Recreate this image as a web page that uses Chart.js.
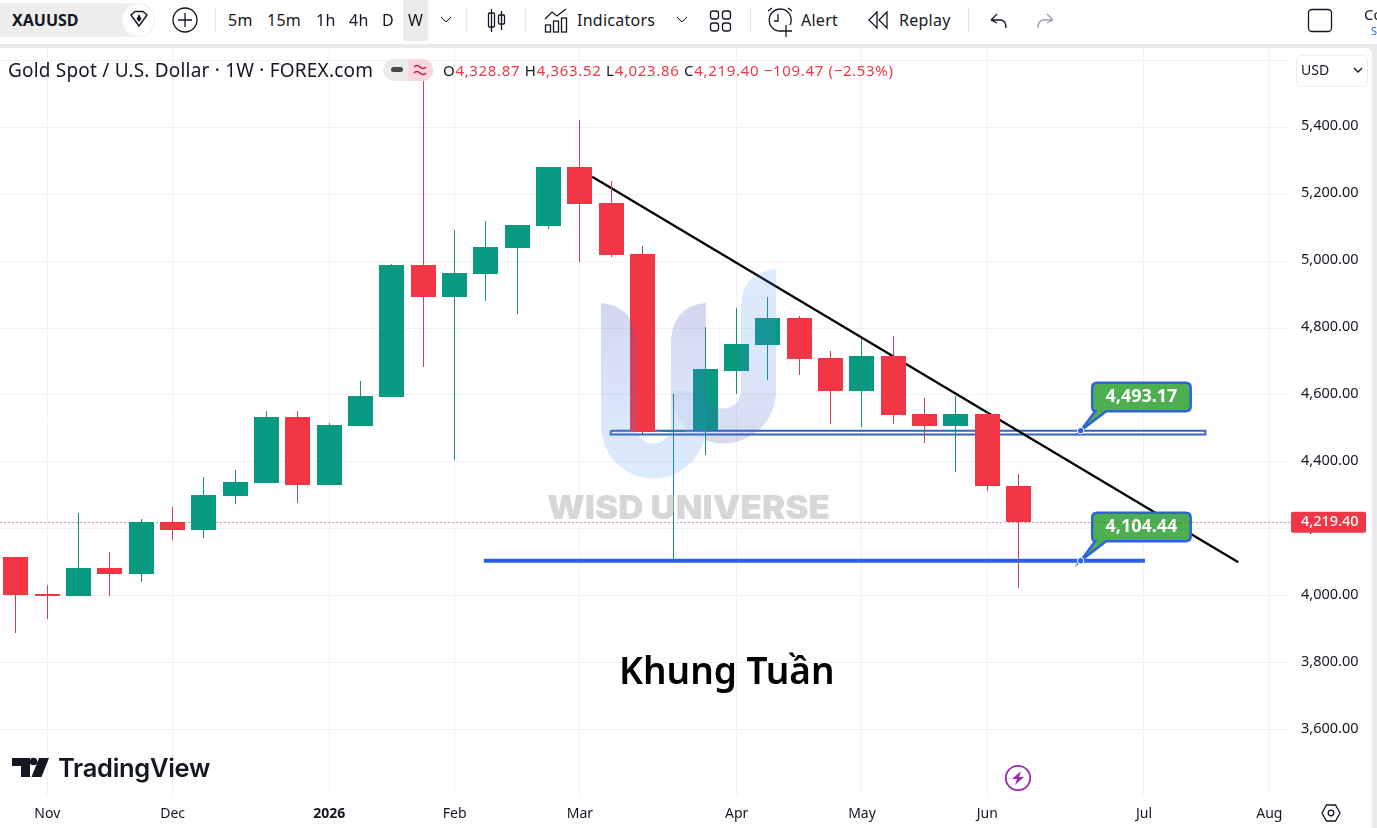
<!DOCTYPE html>
<html>
<head>
<meta charset="utf-8">
<title>XAUUSD 1W</title>
<script src="https://cdn.jsdelivr.net/npm/chart.js@4"></script>
<style>
  html, body { margin: 0; padding: 0; background: #ebebeb; overflow: hidden; }
  body { width: 1377px; height: 828px; position: relative; font-family: "Noto Sans", sans-serif; color: #131722; }
  #toolbar { position: absolute; left: 0; top: 0; width: 1377px; height: 44px; background: #fff; }
  #pane { position: absolute; left: 0; top: 48px; width: 1372px; height: 780px; background: #fff; border-top-right-radius: 6px; }
  #priceChart { position: absolute; left: 0; top: 0; }
  #overlay { position: absolute; left: 0; top: 0; pointer-events: none; }
  .t { position: absolute; white-space: nowrap; line-height: 1; transform: translateY(-50%); }
  .tb { font-size: 16px; letter-spacing: .25px; }
  .box { position: absolute; }
  .red { color: #f23645; }
</style>
</head>
<body>
<div id="toolbar"></div>
<div id="pane"><canvas id="priceChart" width="1372" height="780"></canvas></div>

<div class="box" style="left:0;top:3px;width:155px;height:34px;background:#eeeeee;border-radius:0 17px 17px 0"></div>
<div class="box" style="left:122px;top:3px;width:33px;height:34px;background:#fff;border-radius:17px;box-shadow:0 0 0 1px #eee inset"></div>
<div class="box" style="left:403px;top:0;width:25px;height:41px;background:#ebebeb;border-radius:0 0 4px 4px"></div>
<div class="box" style="left:383px;top:59px;width:50px;height:22px;background:#ebebeb;border-radius:11px;overflow:hidden">
  <div class="box" style="left:25px;top:0;width:25px;height:22px;background:#f9d5dc"></div>
</div>
<div class="box" style="left:1296px;top:55px;width:70px;height:30px;background:#fff;border:1px solid #eeeeee;border-radius:5px"></div>

<span class="t" style="left:12px;top:20px;font-size:16px;font-weight:700">XAUUSD</span>
<span class="t tb" style="left:228px;top:20px">5m</span>
<span class="t tb" style="left:267px;top:20px">15m</span>
<span class="t tb" style="left:316px;top:20px">1h</span>
<span class="t tb" style="left:349px;top:20px">4h</span>
<span class="t tb" style="left:382px;top:20px">D</span>
<span class="t tb" style="left:408px;top:20px">W</span>
<span class="t tb" style="left:577px;top:20px">Indicators</span>
<span class="t tb" style="left:801px;top:20px">Alert</span>
<span class="t tb" style="left:899px;top:20px">Replay</span>
<span class="t" style="left:1364px;top:14px;font-size:15px">Co</span>
<span class="t" style="left:1371px;top:30px;font-size:11px;color:#2962ff">S</span>

<span class="t" style="left:8px;top:70px;font-size:19px;letter-spacing:.2px">Gold Spot / U.S. Dollar · 1W · FOREX.com</span>
<span class="t" style="left:443px;top:70px;font-size:15px;letter-spacing:.67px">O<span class="red">4,328.87</span> H<span class="red">4,363.52</span> L<span class="red">4,023.86</span> C<span class="red">4,219.40 −109.47 (−2.53%)</span></span>
<span class="t" style="left:1301px;top:70px;font-size:14px">USD</span>
<span class="t" style="left:619px;top:669px;font-size:37px;font-weight:600;color:#000">Khung Tuần</span>
<span class="t" style="left:58px;top:768px;font-family:Inter,sans-serif;font-size:25.5px;font-weight:600;letter-spacing:-.3px">TradingView</span>

<svg id="overlay" width="1377" height="828" viewBox="0 0 1377 828" fill="none" stroke="#131722" stroke-width="1.3">
  <defs>
    <linearGradient id="uLeft" x1="0" y1="0" x2="0" y2="1">
      <stop offset="0" stop-color="#4a56b8" stop-opacity=".24"/>
      <stop offset=".55" stop-color="#4a7be0" stop-opacity=".2"/>
      <stop offset="1" stop-color="#4a9cf0" stop-opacity=".2"/>
    </linearGradient>
    <linearGradient id="uRight" x1="0" y1="0" x2="0" y2="1">
      <stop offset="0" stop-color="#4a9cf0" stop-opacity=".2"/>
      <stop offset=".6" stop-color="#4a7be0" stop-opacity=".2"/>
      <stop offset="1" stop-color="#4a56b8" stop-opacity=".22"/>
    </linearGradient>
  </defs>

  <!-- brand mark -->
  <path stroke="none" fill="url(#uRight)" d="M776 269 V391 A52.5 52.5 0 0 1 706 440.5 V391 A17.5 17.5 0 0 0 741 391 V308 Q741 272 776 269 Z"/>
  <path stroke="none" fill="#4a56b8" fill-opacity=".07" d="M706 391 V440.5 A52.5 52.5 0 0 1 671 391 Z"/>
  <path stroke="none" fill="url(#uLeft)" d="M601 303 V426 A52.5 52.5 0 0 0 706 426 V303 Q671 306 671 345 V426 A17.5 17.5 0 0 1 636 426 V345 Q636 306 601 303 Z"/>
  <text x="547" y="519" stroke="none" fill="#bdbdbd" fill-opacity=".6" font-family="Inter, sans-serif" font-size="33" font-weight="900" textLength="283" lengthAdjust="spacingAndGlyphs">WISD UNIVERSE</text>

  <!-- symbol pill -->
  <path stroke-width="1.4" d="M131 15 L135 11.5 H143 L147 15 L139 26 Z"/>
  <path fill="#131722" stroke="none" d="M139 14 L141.5 19 L139 22 L136.5 19 Z"/>
  <circle cx="185" cy="20" r="12"/>
  <path d="M185 13 V27 M178 20 H192"/>
  <path d="M441 17 L446 22 L451 17" stroke-width="1"/>

  <!-- separators -->
  <path stroke="#e6e6e6" d="M215.5 8 V32 M466.5 8 V32 M525.5 8 V32 M750.5 8 V32 M968.5 8 V32"/>

  <!-- candle style icon -->
  <path d="M491.5 9 V32 M501.5 11 V30"/>
  <rect x="488.5" y="13" width="6" height="14" rx="1"/>
  <rect x="498.5" y="15" width="6" height="9" rx="1"/>

  <!-- indicators icon -->
  <path d="M545 19 L552 12 L557 16 L566 9"/>
  <rect x="545.5" y="25" width="5" height="7"/>
  <rect x="553.5" y="21" width="5" height="11"/>
  <rect x="561.5" y="18" width="5" height="14"/>
  <path d="M677 17 L682 22 L687 17" stroke-width="1"/>

  <!-- layout icon -->
  <rect x="710.5" y="11" width="8" height="8" rx="2.5"/>
  <rect x="722.5" y="11" width="8" height="8" rx="2.5"/>
  <rect x="710.5" y="23" width="8" height="8" rx="2.5"/>
  <rect x="722.5" y="23" width="8" height="8" rx="2.5"/>

  <!-- alert icon -->
  <path d="M790 25 A11 11 0 1 0 781 31"/>
  <path d="M778 14 V21 H774"/>
  <path d="M768 11 L772 8 M788 8 L792 11 M786 25 V37 M780 31 H792"/>

  <!-- replay icon -->
  <path d="M877 12 L869 20 L877 28 Z M887 12 L879 20 L887 28 Z"/>

  <!-- undo / redo -->
  <path d="M991 20 L997 14 M991 20 L997 23 M991 20 H1001 Q1006 21 1006 28"/>
  <path stroke="#9a9ea8" d="M1053 20 L1047 14 M1053 20 L1047 23 M1053 20 H1043 Q1038 21 1038 28"/>

  <!-- fullscreen square -->
  <rect x="1308.5" y="9.5" width="23" height="22" rx="3.5"/>

  <!-- legend pill marks -->
  <rect x="391" y="67" width="12" height="5" rx="2.5" fill="#4a4a4a" stroke="none"/>
  <path stroke="#c2185b" stroke-width="1.6" d="M414 67 Q417 64 420 67 T426 67 M414 73 Q417 70 420 73 T426 73"/>
  <path d="M1354 68 L1358 72 L1362 68" stroke-width="1.4"/>

  <!-- TradingView mark -->
  <path stroke="none" fill="#131722" d="M12 758 H30 V777 H21 V766 H12 Z M39 758 H49 L41.5 777 H31.5 Z"/>
  <circle cx="33.5" cy="761.5" r="3.8" fill="#131722" stroke="none"/>

  <!-- economic event marker -->
  <circle cx="1018" cy="778" r="12.2" stroke="#9c27b0" stroke-width="1.8"/>
  <path stroke="none" fill="#9c27b0" d="M1021 771 L1012 779 H1017 L1015 785 L1024 777 H1019 Z"/>

  <!-- axis settings -->
  <path d="M1322 813 L1326.5 805 H1335.5 L1340 813 L1335.5 821 H1326.5 Z"/>
  <circle cx="1331" cy="813" r="2.8"/>
</svg>

<script>
/* =========================
   Data
========================= */

const opens  = [4115, 4004, 3999, 4084, 4065, 4219, 4197, 4298, 4338, 4533, 4331, 4508, 4594, 4989, 4892, 4961, 5039, 5105, 5281, 5173, 5021, 4488, 4494, 4673, 4750, 4831, 4711, 4612, 4717, 4544, 4508, 4544, 4328.87];
const highs  = [4115, 4031, 4247, 4132, 4228, 4264, 4354, 4375, 4551, 4551, 4517, 4643, 4991, 5598, 5093, 5120, 5108, 5281, 5422, 5239, 5045, 4602, 4802, 4859, 4894, 4837, 4732, 4768, 4777, 4592, 4598, 4550, 4363.52];
const lows   = [3889, 3929, 3999, 3999, 4041, 4167, 4173, 4275, 4338, 4278, 4330, 4508, 4594, 4684, 4405, 4880, 4841, 5096, 4997, 5012, 4482, 4104.44, 4420, 4602, 4646, 4660, 4514, 4505, 4514, 4457, 4370, 4313, 4023.86];
const closes = [4001, 3999, 4084, 4065, 4219, 4197, 4300, 4339, 4533, 4331, 4510, 4596, 4989, 4894, 4964, 5042, 5108, 5281, 5170, 5018, 4488, 4493.17, 4677, 4751, 4831, 4708, 4612, 4717, 4541, 4508, 4544, 4328, 4219.40];

const monthTicks  = [1, 5, 10, 14, 18, 23, 27, 31, 36, 40];
const monthLabels = ["Nov", "Dec", "2026", "Feb", "Mar", "Apr", "May", "Jun", "Jul", "Aug"];
const priceTicks  = [3600, 3800, 4000, 4200, 4400, 4600, 4800, 5000, 5200, 5400, 5600];

const lastPrice   = 4219.40;
const supportLow  = 4104.44;
const supportHigh = 4493.17;
const zoneBottom  = 4482;

// drawings, x in bar numbers
const supportXs = [14.93, 36.03];
const zoneXs    = [18.98, 37.96];
const trendXs   = [18.39, 39.01];
const trendYs   = [5252, 4100];
const anchorX   = 33.98;

/* =========================
   Colors
========================= */

const UP = "#089981";
const DOWN = "#f23645";
const WICK_UP = "#12907f";
const WICK_DOWN = "#c9404f";
const GRID = "#f0f1f3";
const DRAW_BLUE = "#2f62dc";
const fontFamily = '"Noto Sans", sans-serif';

function fmtPrice(v) {
  return v.toLocaleString("en-US", { minimumFractionDigits: 2, maximumFractionDigits: 2 });
}

const bars = opens.map((_, i) => i);

/* =========================
   Plugins
========================= */

// keep the candles and the dotted price line on whole pixels so they stay crisp
const snapToPixels = {
  id: "snapToPixels",
  afterDatasetsUpdate(chart) {
    chart.data.datasets.forEach((ds, idx) => {
      const elements = chart.getDatasetMeta(idx).data;
      if (ds.label === "last") {
        elements.forEach(el => { el.y = Math.floor(el.y) + 0.5; });
      }
      if (!ds.candlePart) return;
      elements.forEach(el => {
        el.x = Math.floor(el.x) + 0.5;
        el.y = Math.round(el.y);
        el.base = Math.round(el.base);
        if (el.y === el.base) el.base = el.y + 1;
      });
    });
  }
};

function drawCallout(chart, price) {
  const ctx = chart.ctx;
  const tipX = chart.scales.x.getPixelForValue(anchorX);
  const tipY = chart.scales.y.getPixelForValue(price);
  const left = tipX + 11.5, right = tipX + 110;
  const top = tipY - 48, bottom = tipY - 19.5, r = 5;

  ctx.save();
  ctx.beginPath();
  ctx.moveTo(left + r, top);
  ctx.lineTo(right - r, top);
  ctx.quadraticCurveTo(right, top, right, top + r);
  ctx.lineTo(right, bottom - r);
  ctx.quadraticCurveTo(right, bottom, right - r, bottom);
  ctx.lineTo(left + 14, bottom);
  ctx.lineTo(tipX, tipY);
  ctx.lineTo(left + 3, bottom);
  ctx.quadraticCurveTo(left, bottom, left, bottom - r);
  ctx.lineTo(left, top + r);
  ctx.quadraticCurveTo(left, top, left + r, top);
  ctx.closePath();
  ctx.fillStyle = "#4caf50";
  ctx.fill();
  ctx.lineWidth = 2.5;
  ctx.strokeStyle = DRAW_BLUE;
  ctx.stroke();

  ctx.fillStyle = "#fff";
  ctx.font = "700 18px " + fontFamily;
  ctx.textAlign = "center";
  ctx.textBaseline = "middle";
  ctx.fillText(fmtPrice(price), (left + right) / 2, (top + bottom) / 2 - 0.5);

  // anchor handle
  ctx.beginPath();
  ctx.arc(tipX, tipY, 3.2, 0, Math.PI * 2);
  ctx.fillStyle = DRAW_BLUE;
  ctx.fill();
  ctx.lineWidth = 1;
  ctx.strokeStyle = "#fff";
  ctx.stroke();
  ctx.restore();
}

const callouts = {
  id: "callouts",
  afterDatasetDraw(chart, args) {
    if (chart.data.datasets[args.index].label !== "trend") return;
    drawCallout(chart, supportHigh);
    drawCallout(chart, supportLow);
  }
};

// red tag on the price axis
const lastPriceTag = {
  id: "lastPriceTag",
  afterDraw(chart) {
    const ctx = chart.ctx;
    const y = chart.scales.y.getPixelForValue(lastPrice);
    ctx.save();
    ctx.fillStyle = DOWN;
    ctx.beginPath();
    ctx.roundRect(1291, y - 10.5, 75, 21, 2);
    ctx.fill();
    ctx.fillStyle = "#fff";
    ctx.font = "500 14.5px " + fontFamily;
    ctx.textAlign = "left";
    ctx.textBaseline = "middle";
    ctx.fillText(fmtPrice(lastPrice), 1301, y);
    ctx.restore();
  }
};

/* =========================
   Chart
========================= */

new Chart(document.getElementById("priceChart"), {
  type: "bar",
  plugins: [snapToPixels, callouts, lastPriceTag],
  data: {
    datasets: [
      {
        label: "zone",
        type: "line",
        order: 60,
        data: [
          { x: zoneXs[0], y: supportHigh },
          { x: zoneXs[1], y: supportHigh },
          { x: zoneXs[1], y: zoneBottom },
          { x: zoneXs[0], y: zoneBottom },
          { x: zoneXs[0], y: supportHigh }
        ],
        borderColor: "#3563c4",
        borderWidth: 2,
        borderJoinStyle: "miter",
        pointRadius: 0,
        tension: 0
      },
      {
        label: "support",
        type: "line",
        order: 50,
        data: supportXs.map(x => ({ x, y: supportLow })),
        borderColor: "#2b5fe6",
        borderWidth: 4,
        pointRadius: 0
      },
      {
        label: "trend",
        type: "line",
        order: 40,
        data: trendXs.map((x, i) => ({ x, y: trendYs[i] })),
        borderColor: "#000",
        borderWidth: 2.2,
        pointRadius: 0
      },
      {
        label: "last",
        type: "line",
        order: 30,
        data: [{ x: -1, y: lastPrice }, { x: 41, y: lastPrice }],
        borderColor: "#9c3a4a",
        borderWidth: 1,
        borderDash: [1, 3],
        pointRadius: 0
      },
      {
        label: "wicks",
        order: 20,
        candlePart: true,
        grouped: false,
        barThickness: 1,
        inflateAmount: 0,
        data: bars.map(i => ({ x: i, y: [lows[i], highs[i]] })),
        backgroundColor: bars.map(i => closes[i] >= opens[i] ? WICK_UP : WICK_DOWN)
      },
      {
        label: "bodies",
        order: 10,
        candlePart: true,
        grouped: false,
        barThickness: 25,
        inflateAmount: 0,
        data: bars.map(i => ({ x: i, y: [opens[i], closes[i]] })),
        backgroundColor: bars.map(i => closes[i] >= opens[i] ? UP : DOWN)
      }
    ]
  },
  options: {
    responsive: false,
    animation: false,
    events: [],
    layout: { padding: 0 },
    plugins: { legend: { display: false }, tooltip: { enabled: false } },
    scales: {
      x: {
        type: "linear",
        bounds: "data",
        offset: false,
        min: -0.509,
        max: 40.66,
        afterBuildTicks(scale) { scale.ticks = monthTicks.map(value => ({ value })); },
        // no room reserved for the outer labels, the plot runs up to the edges
        afterFit(scale) { scale.height = 33; scale.paddingLeft = 0; scale.paddingRight = 0; },
        grid: { color: GRID, drawTicks: false, offset: false },
        border: { display: false },
        ticks: {
          autoSkip: false,
          maxRotation: 0,
          padding: 11,
          color: "#131722",
          font: ctx => ({
            family: fontFamily,
            size: 14,
            weight: ctx.tick && ctx.tick.label === "2026" ? "700" : "400"
          }),
          callback: value => monthLabels[monthTicks.indexOf(value)]
        }
      },
      y: {
        type: "linear",
        position: "right",
        bounds: "data",
        min: 3404.2,
        max: 5637,
        afterBuildTicks(scale) { scale.ticks = priceTicks.map(value => ({ value })); },
        afterFit(scale) { scale.width = 82; scale.paddingTop = 0; scale.paddingBottom = 0; },
        grid: { color: GRID, drawTicks: false },
        border: { display: false },
        ticks: {
          autoSkip: false,
          padding: 11,
          labelOffset: -1,
          color: "#131722",
          font: { family: fontFamily, size: 14.5 },
          // the top line has no label, the currency box sits there
          callback: value => value === 5600 ? "" : fmtPrice(value)
        }
      }
    }
  }
});
</script>
</body>
</html>
